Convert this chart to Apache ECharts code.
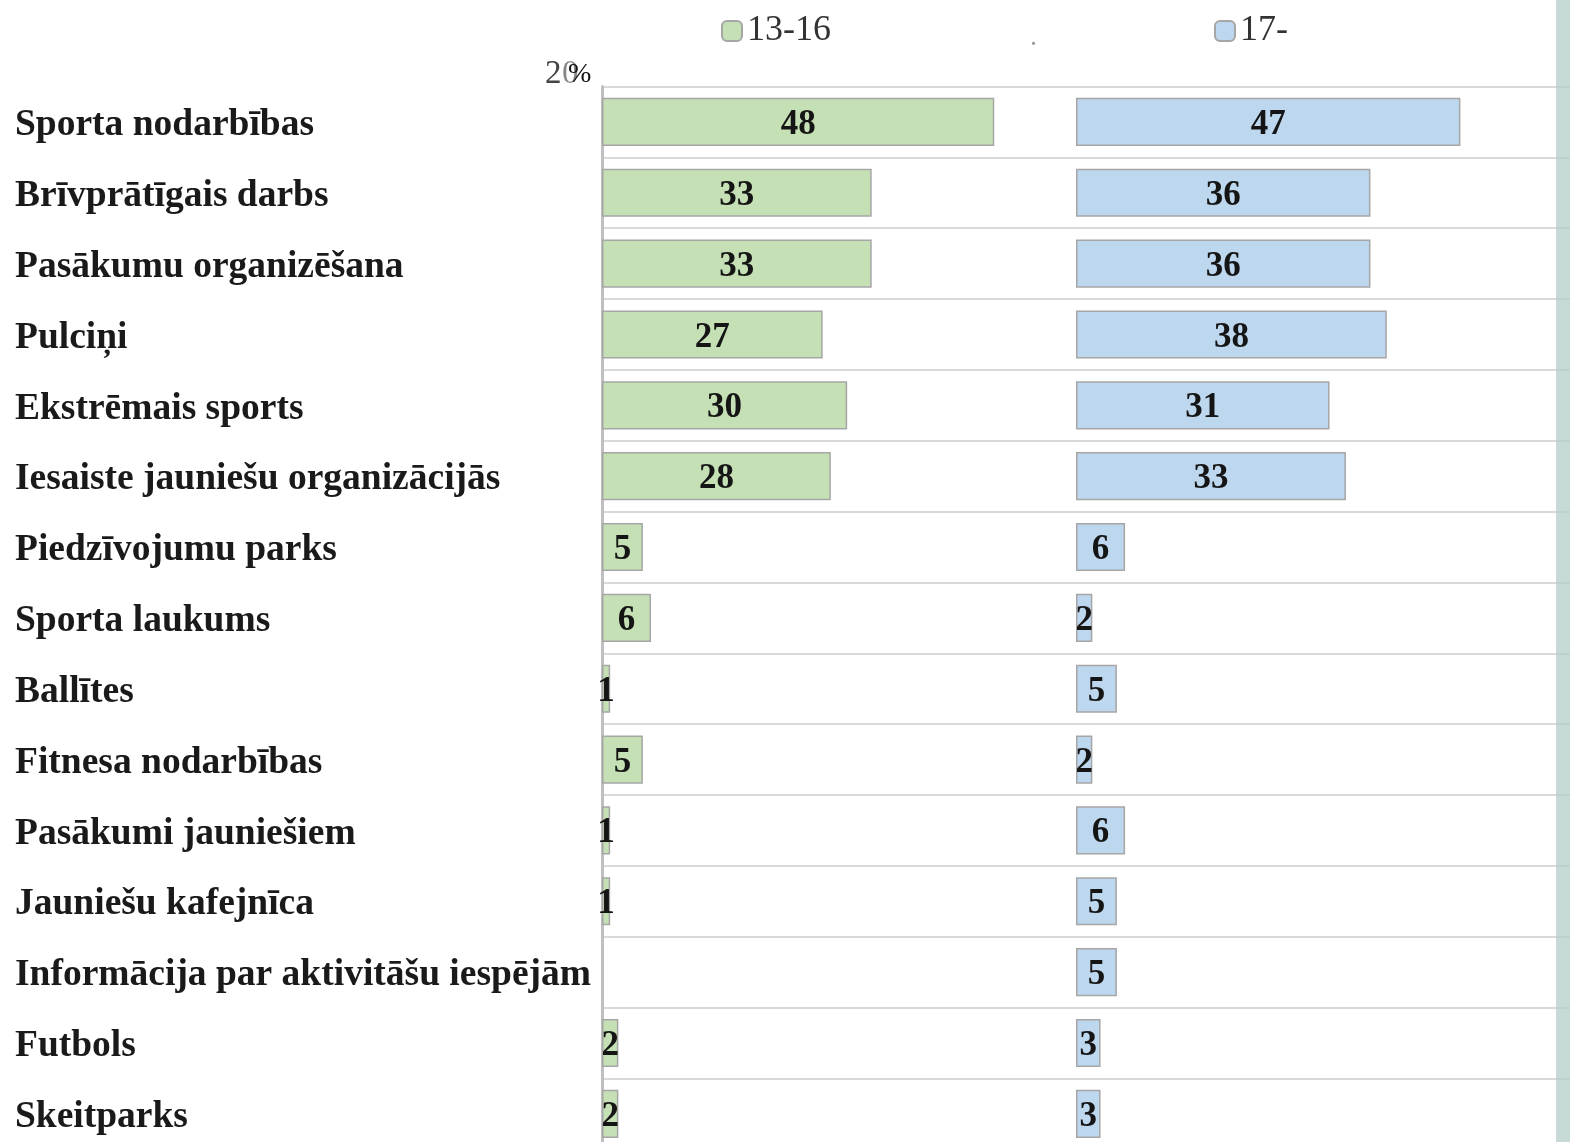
<!DOCTYPE html>
<html>
<head>
<meta charset="utf-8">
<style>
html,body{margin:0;padding:0;background:#fff;overflow:hidden;}
#chart{width:1570px;height:1160px;}
</style>
<script src="https://cdn.jsdelivr.net/npm/echarts@6/dist/echarts.min.js"></script>
</head>
<body>
<div id="chart"></div>
<script>
const categories = [
  "Sporta nodarbības",
  "Brīvprātīgais darbs",
  "Pasākumu organizēšana",
  "Pulciņi",
  "Ekstrēmais sports",
  "Iesaiste jauniešu organizācijās",
  "Piedzīvojumu parks",
  "Sporta laukums",
  "Ballītes",
  "Fitnesa nodarbības",
  "Pasākumi jauniešiem",
  "Jauniešu kafejnīca",
  "Informācija par aktivitāšu iespējām",
  "Futbols",
  "Skeitparks"
];
const seriesNames = ["13-16", "17-"];
const values1316 = [48, 33, 33, 27, 30, 28, 5, 6, 1, 5, 1, 1, null, 2, 2];
const values17 = [47, 36, 36, 38, 31, 33, 6, 2, 5, 2, 6, 5, 5, 3, 3];

const FONT = "'Liberation Serif', 'DejaVu Serif', serif";
const rowH = 70.85;
const gridTop = 86.5;
const gridH = rowH * categories.length;

const chart = echarts.init(document.getElementById('chart'), null, {renderer: 'canvas'});

const labelStyle = {
  show: true,
  position: 'inside',
  offset: [0, 3],
  fontFamily: FONT,
  fontWeight: 'bold',
  fontSize: 35,
  color: '#151515'
};

const yBase = {
  type: 'category',
  data: categories,
  inverse: true,
  axisTick: {show: false},
  splitLine: {show: true, lineStyle: {color: '#d9d9d9', width: 2}}
};

chart.setOption({
  animation: false,
  backgroundColor: '#ffffff',
  legend: {
    data: seriesNames,
    left: 721,
    top: 13,
    padding: 0,
    itemWidth: 20,
    itemHeight: 20,
    itemGap: 383,
    icon: 'roundRect',
    textStyle: {fontFamily: FONT, fontSize: 36, color: '#333333'}
  },
  grid: [
    {left: 602, top: gridTop, width: 474, height: gridH},
    {left: 1076, top: gridTop, width: 494, height: gridH}
  ],
  xAxis: [
    {type: 'value', gridIndex: 0, min: 0, max: 58, show: false},
    {type: 'value', gridIndex: 1, min: 0, max: 60.4, show: false}
  ],
  yAxis: [
    Object.assign({}, yBase, {
      gridIndex: 0,
      axisLine: {show: true, lineStyle: {color: '#bfbfbf', width: 3}},
      axisLabel: {
        show: true,
        align: 'left',
        margin: 587,
        formatter: function (v) { return '{c|' + v + '}'; },
        rich: {
          c: {
            fontFamily: FONT,
            fontWeight: 'bold',
            fontSize: 37.5,
            color: '#1a1a1a',
            padding: [7, 0, 0, 0]
          }
        }
      }
    }),
    Object.assign({}, yBase, {
      gridIndex: 1,
      axisLine: {show: false},
      axisLabel: {show: false}
    })
  ],
  series: [
    {
      name: seriesNames[0],
      type: 'bar',
      xAxisIndex: 0,
      yAxisIndex: 0,
      data: values1316,
      barCategoryGap: '32%',
      itemStyle: {color: '#c5e0b4', borderColor: '#a6a6a6', borderWidth: 1.5},
      label: labelStyle
    },
    {
      name: seriesNames[1],
      type: 'bar',
      xAxisIndex: 1,
      yAxisIndex: 1,
      data: values17,
      barCategoryGap: '32%',
      itemStyle: {color: '#bdd7ee', borderColor: '#a6a6a6', borderWidth: 1.5},
      label: labelStyle
    }
  ],
  graphic: [
    {type: 'text', left: 545, top: 58, z: 10,
     style: {text: '2', font: '33px ' + FONT, fill: '#444'}},
    {type: 'text', left: 562, top: 58, z: 10,
     style: {text: '0', font: '33px ' + FONT, fill: '#888'}},
    {type: 'text', left: 568, top: 61, z: 11,
     style: {text: '%', font: '28px ' + FONT, fill: '#111'}},
    {type: 'text', left: 1030, top: 24, z: 10,
     style: {text: '.', font: '28px ' + FONT, fill: '#999'}},
    {type: 'rect', z: 100,
     shape: {x: 1556, y: 0, width: 14, height: 1160},
     style: {fill: '#b5cdc9', opacity: 0.75}}
  ]
});
</script>
</body>
</html>
